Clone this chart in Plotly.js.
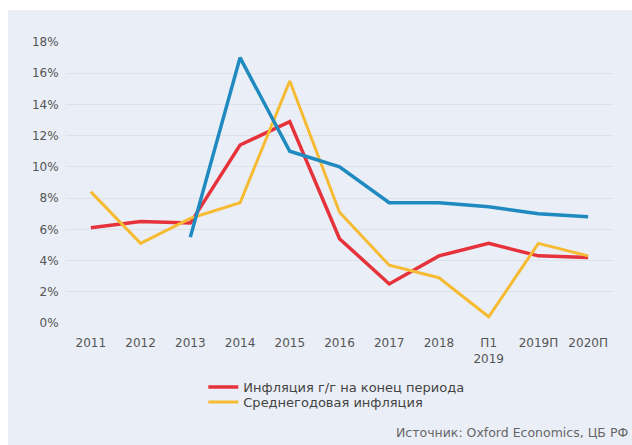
<!DOCTYPE html>
<html>
<head>
<meta charset="utf-8">
<script src="https://cdn.plot.ly/plotly-3.0.1.min.js"></script>
<style>
html,body{margin:0;padding:0;background:#ffffff;}
#bg{position:absolute;left:8px;top:10px;width:624px;height:435px;background:#eaeef6;}
#chart{position:absolute;left:0;top:0;width:632px;height:445px;}
</style>
</head>
<body>
<div id="bg"></div>
<div id="chart"></div>
<script>
var categories = ['2011','2012','2013','2014','2015','2016','2017','2018','П1<br>2019','2019П','2020П'];
var endOfPeriod = [6.1, 6.5, 6.4, 11.4, 12.9, 5.4, 2.5, 4.3, 5.1, 4.3, 4.2];
var annualAvg = [8.4, 5.1, 6.7, 7.7, 15.5, 7.1, 3.7, 2.9, 0.4, 5.1, 4.3];
var thirdSeries = [null, null, 5.5, 17.0, 11.0, 10.0, 7.7, 7.7, 7.45, 7.0, 6.8];
var seriesNames = ['Инфляция г/г на конец периода', 'Среднегодовая инфляция'];
var yTicks = [0, 2, 4, 6, 8, 10, 12, 14, 16, 18];
var sourceText = 'Источник: Oxford Economics, ЦБ РФ';

var traces = [
  {x: categories, y: endOfPeriod, name: seriesNames[0], type: 'scatter', mode: 'lines',
   legend: 'legend', line: {color: '#e5323b', width: 3.5}},
  {x: categories, y: annualAvg, name: seriesNames[1], type: 'scatter', mode: 'lines',
   legend: 'legend2', line: {color: '#f6bb33', width: 3}},
  {x: categories, y: thirdSeries, name: '', type: 'scatter', mode: 'lines', showlegend: false,
   connectgaps: false, line: {color: '#1f8ac0', width: 3.5}}
];

var legendBase = {xanchor: 'left', yanchor: 'middle', orientation: 'v',
                  bgcolor: 'rgba(0,0,0,0)', font: {size: 13, color: '#444444'},
                  tracegroupgap: 0, itemwidth: 30};

var layout = {
  width: 632, height: 445,
  paper_bgcolor: 'rgba(0,0,0,0)',
  plot_bgcolor: 'rgba(0,0,0,0)',
  margin: {l: 66, r: 19, t: 42, b: 122},
  font: {family: 'DejaVu Sans, Arial, sans-serif', size: 12, color: '#555555'},
  showlegend: true,
  xaxis: {type: 'category', range: [-0.5, 10.5], showgrid: false, zeroline: false, showline: false,
          ticks: 'outside', ticklen: 9, tickcolor: 'rgba(0,0,0,0)',
          tickfont: {size: 12, color: '#555555'}, fixedrange: true},
  yaxis: {range: [0, 18], tickvals: yTicks, ticktext: yTicks.map(function(v){return v + '%';}),
          showgrid: true, gridcolor: '#dde2ea', gridwidth: 1, zeroline: false, showline: false,
          ticks: 'outside', ticklen: 4, tickcolor: 'rgba(0,0,0,0)',
          tickfont: {size: 12, color: '#555555'}, fixedrange: true},
  legend: Object.assign({}, legendBase, {x: 0.251, y: -0.228}),
  legend2: Object.assign({}, legendBase, {x: 0.251, y: -0.281}),
  annotations: [{text: sourceText, xref: 'paper', yref: 'paper', x: 1.031, y: -0.388,
                 xanchor: 'right', yanchor: 'middle', showarrow: false,
                 font: {size: 12.5, color: '#666666'}}]
};

Plotly.newPlot('chart', traces, layout, {displayModeBar: false, staticPlot: true});
</script>
</body>
</html>
